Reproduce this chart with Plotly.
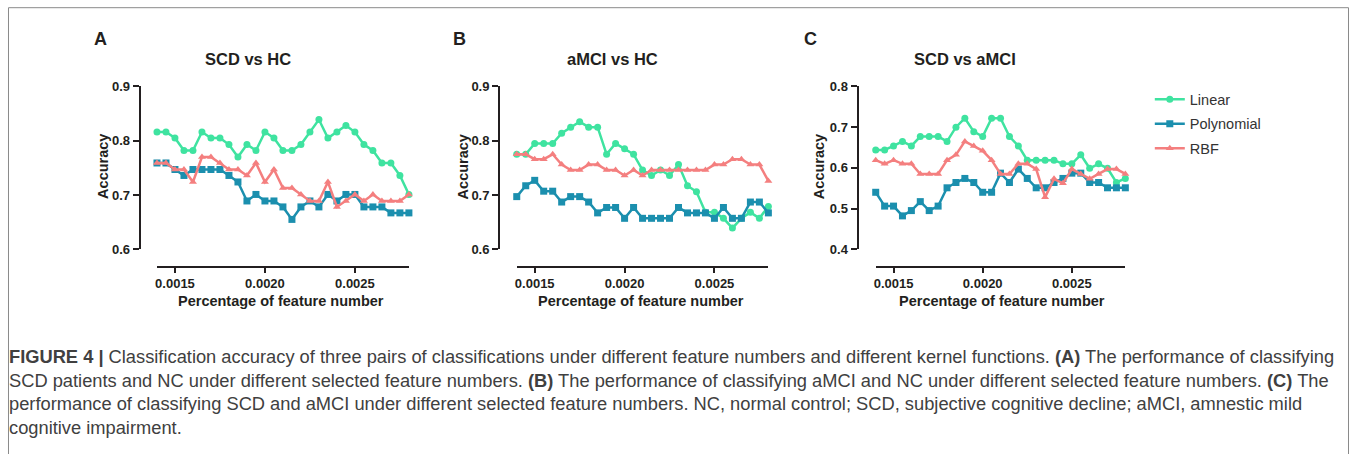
import plotly.graph_objects as go

W, H = 1358, 454

# ---------------- data ----------------
x_vals = [round(0.0014 + 0.00005 * i, 5) for i in range(29)]
x_ticks = [0.0015, 0.0020, 0.0025]
x_tick_labels = ["0.0015", "0.0020", "0.0025"]

series_names = ["Linear", "Polynomial", "RBF"]

a_linear = [0.816, 0.816, 0.805, 0.782, 0.782, 0.816, 0.805, 0.805, 0.793, 0.770, 0.793, 0.782, 0.816, 0.805, 0.782,
            0.782, 0.793, 0.816, 0.839, 0.805, 0.816, 0.828, 0.816, 0.793, 0.782, 0.759, 0.759, 0.736, 0.701]
a_poly = [0.759, 0.759, 0.747, 0.736, 0.747, 0.747, 0.747, 0.747, 0.736, 0.724, 0.689, 0.701, 0.689, 0.689, 0.678,
          0.655, 0.678, 0.689, 0.678, 0.701, 0.689, 0.701, 0.701, 0.678, 0.678, 0.678, 0.667, 0.667, 0.667]
a_rbf = [0.759, 0.759, 0.747, 0.747, 0.724, 0.770, 0.770, 0.759, 0.747, 0.747, 0.736, 0.759, 0.724, 0.747, 0.713,
         0.713, 0.701, 0.689, 0.689, 0.724, 0.678, 0.689, 0.701, 0.689, 0.701, 0.689, 0.689, 0.689, 0.701]

b_linear = [0.775, 0.775, 0.795, 0.795, 0.795, 0.814, 0.825, 0.835, 0.825, 0.825, 0.775, 0.795, 0.785, 0.775, 0.746,
            0.736, 0.746, 0.736, 0.756, 0.717, 0.706, 0.668, 0.668, 0.657, 0.639, 0.657, 0.668, 0.657, 0.679]
b_poly = [0.697, 0.717, 0.727, 0.707, 0.707, 0.687, 0.697, 0.697, 0.687, 0.667, 0.677, 0.677, 0.657, 0.677, 0.657,
          0.657, 0.657, 0.657, 0.677, 0.667, 0.667, 0.667, 0.657, 0.677, 0.657, 0.657, 0.687, 0.687, 0.667]
b_rbf = [0.775, 0.775, 0.766, 0.766, 0.775, 0.756, 0.746, 0.746, 0.756, 0.756, 0.746, 0.746, 0.736, 0.746, 0.736,
         0.746, 0.746, 0.746, 0.746, 0.746, 0.746, 0.746, 0.756, 0.756, 0.766, 0.766, 0.756, 0.756, 0.726]

c_linear = [0.644, 0.644, 0.654, 0.665, 0.654, 0.677, 0.677, 0.677, 0.665, 0.700, 0.722, 0.689, 0.677, 0.722, 0.722,
            0.677, 0.654, 0.619, 0.619, 0.619, 0.619, 0.610, 0.610, 0.632, 0.599, 0.610, 0.599, 0.564, 0.574]
c_poly = [0.540, 0.506, 0.506, 0.482, 0.495, 0.517, 0.495, 0.506, 0.551, 0.564, 0.574, 0.564, 0.540, 0.540, 0.587,
          0.564, 0.597, 0.574, 0.551, 0.551, 0.564, 0.574, 0.587, 0.587, 0.564, 0.564, 0.551, 0.551, 0.551]
c_rbf = [0.619, 0.610, 0.619, 0.610, 0.610, 0.585, 0.585, 0.585, 0.619, 0.632, 0.665, 0.654, 0.642, 0.619, 0.585,
         0.585, 0.610, 0.610, 0.597, 0.528, 0.573, 0.562, 0.597, 0.585, 0.573, 0.585, 0.597, 0.597, 0.585]

panel_letters = ["A", "B", "C"]
panel_titles = ["SCD vs HC", "aMCI vs HC", "SCD vs aMCI"]
y_ranges = [[0.6, 0.9], [0.6, 0.9], [0.4, 0.8]]
y_ticks = [[0.6, 0.7, 0.8, 0.9], [0.6, 0.7, 0.8, 0.9], [0.4, 0.5, 0.6, 0.7, 0.8]]
x_title = "Percentage of feature number"
y_title = "Accuracy"

caption_lines = [
    "<b>FIGURE 4 |</b> Classification accuracy of three pairs of classifications under different feature numbers and different kernel functions. <b>(A)</b> The performance of classifying",
    "SCD patients and NC under different selected feature numbers. <b>(B)</b> The performance of classifying aMCI and NC under different selected feature numbers. <b>(C)</b> The",
    "performance of classifying SCD and aMCI under different selected feature numbers. NC, normal control; SCD, subjective cognitive decline; aMCI, amnestic mild",
    "cognitive impairment.",
]

# ---------------- style ----------------
colors = {"Linear": "#3fe3a0", "Polynomial": "#1b8fae", "RBF": "#f47f7f"}
symbols = {"Linear": "circle", "Polynomial": "square", "RBF": "triangle-up"}
msize = {"Linear": 7, "Polynomial": 7, "RBF": 7}
FONT = "Liberation Sans, Arial, sans-serif"
INK = "#231f20"

# mapping from target picture pixels to figure pixels (calibrated on the
# photographed output of earlier runs)
SY, OY, OX = 0.966, 7.3, 1.5


def fx(t):
    return t - OX


def fy(t):
    return (t - OY) / SY


def px_x(t):
    return fx(t) / W


def px_y(t):
    return 1 - fy(t) / H


# target-pixel geometry of each panel
x_dom_px = [(156.7, 409.0), (517.0, 769.0), (876.5, 1126.5)]
y_axis_px = [139.3, 499.3, 858.3]
y_dom_px = (86.7, 249.3)
x_axis_line_px = 266.7
letter_px = [100, 459.5, 811]
title_px = [248, 612.5, 966]
ytitle_px = [102.7, 462.7, 820]
xtitle_px = [280.5, 641.5, 1002.5]

data = [
    (a_linear, a_poly, a_rbf),
    (b_linear, b_poly, b_rbf),
    (c_linear, c_poly, c_rbf),
]

fig = go.Figure()
legend_top_fig = fy(99) - 16
layout = dict(
    width=W, height=H, autosize=False,
    margin=dict(l=0, r=0, t=0, b=0),
    paper_bgcolor="white", plot_bgcolor="white",
    font=dict(family=FONT, color=INK),
    showlegend=True,
    legend=dict(
        x=px_x(1151), y=1 - legend_top_fig / H, xanchor="left", yanchor="top",
        font=dict(family=FONT, size=14.5, color="#333333"),
        bgcolor="rgba(0,0,0,0)", itemwidth=30, tracegroupgap=2.6,
    ),
)

annotations = []
for k in range(3):
    xa = "x" if k == 0 else f"x{k+1}"
    ya = "y" if k == 0 else f"y{k+1}"
    xkey = "xaxis" if k == 0 else f"xaxis{k+1}"
    ykey = "yaxis" if k == 0 else f"yaxis{k+1}"
    for name, vals in zip(series_names, data[k]):
        fig.add_trace(go.Scatter(
            x=x_vals, y=vals, mode="lines+markers", name=name,
            legendgroup=name, showlegend=(k == 0),
            line=dict(color=colors[name], width=2.5),
            marker=dict(symbol=symbols[name], size=msize[name], color=colors[name]),
            cliponaxis=False, xaxis=xa, yaxis=ya,
        ))
    layout[xkey] = dict(
        domain=[px_x(x_dom_px[k][0]), px_x(x_dom_px[k][1])],
        range=[0.0014, 0.0028], anchor="free", position=px_y(x_axis_line_px),
        showline=True, linecolor=INK, linewidth=2, showgrid=False, zeroline=False,
        ticks="outside", ticklen=5, tickwidth=2, tickcolor=INK,
        tickvals=x_ticks, ticktext=x_tick_labels,
        tickfont=dict(family=FONT, size=13, color=INK, weight="bold"),
    )
    layout[ykey] = dict(
        domain=[px_y(y_dom_px[1]), px_y(y_dom_px[0])],
        range=y_ranges[k], anchor="free", position=px_x(y_axis_px[k]),
        showline=True, linecolor=INK, linewidth=2, showgrid=False, zeroline=False,
        ticks="outside", ticklen=6, tickwidth=2, tickcolor=INK,
        tickvals=y_ticks[k], ticktext=[f"{v:.1f}" for v in y_ticks[k]],
        tickfont=dict(family=FONT, size=13, color=INK, weight="bold"),
    )
    annotations.append(dict(
        text=f"<b>{panel_letters[k]}</b>", x=px_x(letter_px[k]), y=px_y(39),
        xref="paper", yref="paper", showarrow=False, xanchor="center", yanchor="middle",
        font=dict(family=FONT, size=18, color=INK)))
    annotations.append(dict(
        text=f"<b>{panel_titles[k]}</b>", x=px_x(title_px[k]), y=px_y(59),
        xref="paper", yref="paper", showarrow=False, xanchor="center", yanchor="middle",
        font=dict(family=FONT, size=16.5, color=INK)))
    annotations.append(dict(
        text=f"<b>{y_title}</b>", x=px_x(ytitle_px[k]), y=px_y(167),
        xref="paper", yref="paper", showarrow=False, xanchor="center", yanchor="middle",
        textangle=-90, font=dict(family=FONT, size=14.5, color=INK)))
    annotations.append(dict(
        text=f"<b>{x_title}</b>", x=px_x(xtitle_px[k]), y=px_y(301),
        xref="paper", yref="paper", showarrow=False, xanchor="center", yanchor="middle",
        font=dict(family=FONT, size=14.5, color=INK)))

caption_y = [356, 380, 403.5, 427]
for line, yy in zip(caption_lines, caption_y):
    annotations.append(dict(
        text=line, x=px_x(7), y=px_y(yy), xref="paper", yref="paper",
        showarrow=False, xanchor="left", yanchor="middle",
        font=dict(family=FONT, size=18.3, color="#404040")))

layout["annotations"] = annotations
# frame around the figure (bottom edge lies below the window)
layout["shapes"] = [dict(
    type="rect", xref="paper", yref="paper",
    x0=px_x(8), x1=px_x(1350), y0=-0.2, y1=px_y(8),
    line=dict(color="#8a8a8a", width=1), fillcolor="rgba(0,0,0,0)", layer="below")]

fig.update_layout(**layout)
fig.write_html(
    "out.html",
    config={"responsive": False, "displayModeBar": False},
    post_script="document.body.style.margin='0';document.body.style.padding='0';"
                "document.body.style.overflow='hidden';document.documentElement.style.overflow='hidden';",
)
